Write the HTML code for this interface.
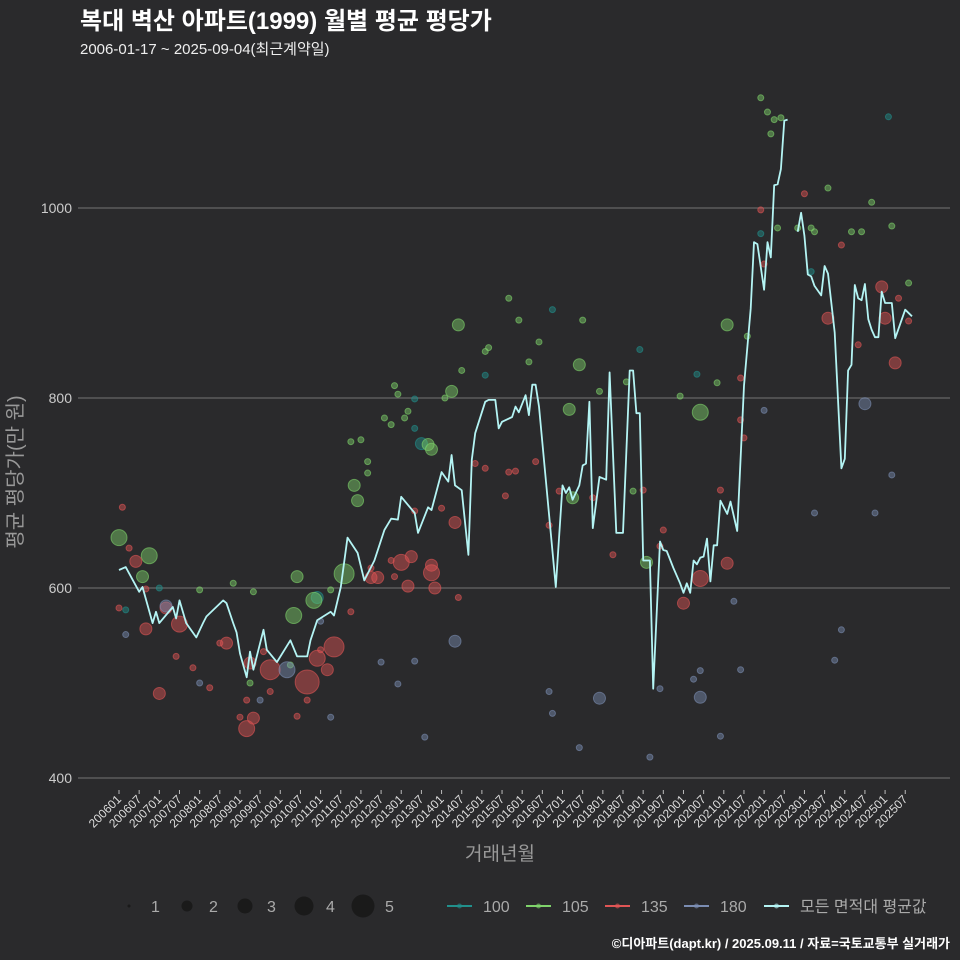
<!DOCTYPE html>
<html><head><meta charset="utf-8">
<style>
body{margin:0;background:#2a2a2c;}
svg{display:block;font-family:"Liberation Sans","Noto Sans CJK KR",sans-serif;}
</style></head>
<body>
<svg id="chart" width="960" height="960" viewBox="0 0 960 960" xmlns="http://www.w3.org/2000/svg">
<rect width="960" height="960" fill="#2a2a2c"/>
<text x="80" y="29" fill="#ffffff" font-size="24" font-weight="bold">복대 벽산 아파트(1999) 월별 평균 평당가</text>
<text x="80" y="54" fill="#eeeeee" font-size="15">2006-01-17 ~ 2025-09-04(최근계약일)</text>
<g id="grid"></g>
<g id="bubbles"></g>
<g id="avgline"></g>
<g id="xaxis"></g>
<text x="500" y="860" fill="#999" font-size="19" text-anchor="middle">거래년월</text>
<text transform="translate(22,472) rotate(-90)" fill="#999" font-size="20" text-anchor="middle">평균 평당가(만 원)</text>
<g id="legend"></g>
<text x="950" y="948" fill="#ffffff" font-size="13" font-weight="bold" text-anchor="end">©디아파트(dapt.kr) / 2025.09.11 / 자료=국토교통부 실거래가</text>
</svg>
<script>
const yTicks=[400,600,800,1000];
const xTickLabels=["200601","200607","200701","200707","200801","200807","200901","200907","201001","201007","201101","201107","201201","201207","201301","201307","201401","201407","201501","201507","201601","201607","201701","201707","201801","201807","201901","201907","202001","202007","202101","202107","202201","202207","202301","202307","202401","202407","202501","202507"];
// average line: month index since 2006-01, value
const avgMonths=[0,2,6,7,10,11,12,16,17,18,20,23,25,26,31,32,34,35,36,38,39,40,43,44,47,51,53,56,57,59,63,64,66,68,71,73,76,79,81,83,84,88,89,92,93,96,98,99,100,102,104,105,106,109,110,112,113,114,117,118,119,121,122,123,124,125,130,132,133,134,135,137,138,139,140,141,143,145,146,148,150,152,153,154,155,156,158,159,161,162,163,165,167,168,169,170,171,172,173,174,175,176,177,178,179,181,182,184,186,188,189,190,192,193,194,195,196,197,198,199,200,202,203,204,205,206,207,209,210,211,213,215,216,217,218,219,220,221,222,223,224,225,226,227,228,230,231,234,236];
const avgValues=[619,622,596,601,563,575,563,580,568,587,563,548,563,570,587,584,563,553,531,506,533,514,556,535,522,545,528,528,545,566,575,571,601,653,637,608,629,661,673,672,696,679,658,685,682,722,712,740,708,703,635,735,763,796,798,798,768,775,780,791,785,803,782,814,814,791,601,708,700,706,693,708,729,731,796,663,717,714,827,658,658,829,829,784,784,629,629,494,649,640,639,621,605,595,605,595,629,625,632,633,652,607,645,645,692,678,691,660,813,894,964,962,914,964,948,1024,1025,1041,1092,1093,null,975,995,971,930,928,918,908,939,931,869,726,736,829,835,919,905,903,920,883,872,864,864,912,900,900,863,893,886];
// bubbles by area type
const g105Months=[0,9,7,53,52,58,67,70,71,92,93,99,101,134,137,135,173,181,157,24,34,39,40,51,63,69,72,74,74,79,81,82,83,85,86,97,102,109,110,116,119,122,125,138,143,151,153,167,178,187,195,194,197,191,193,202,196,206,207,211,218,221,224,230,235];
const g105Values=[653,634,612,612,571,587,615,708,692,751,746,807,877,788,835,695,785,877,627,598,605,500,596,519,598,754,756,721,733,779,772,813,804,779,786,800,829,849,853,905,882,838,859,882,807,817,702,802,816,865,1093,1078,1095,1116,1101,979,979,979,975,1021,975,975,1006,981,921];
const g105Sizes=[3,3,2,2,3,3,4,2,2,2,2,2,2,2,2,2,3,2,2,1,1,1,1,1,1,1,1,1,1,1,1,1,1,1,1,1,1,1,1,1,1,1,1,1,1,1,1,1,1,1,1,1,1,1,1,1,1,1,1,1,1,1,1,1,1];
const g100Months=[90,59,88,88,109,129,155,172,191,206,229,2,12];
const g100Values=[752,590,768,799,824,893,851,825,973,933,1096,577,600];
const g100Sizes=[2,2,1,1,1,1,1,1,1,1,1,1,1];
const g135Months=[5,8,12,14,18,32,39,38,40,45,56,59,62,64,75,77,84,87,86,93,93,94,100,173,168,181,227,228,231,211,1,0,3,8,17,22,27,30,36,38,43,45,53,56,60,69,75,81,82,88,96,101,106,109,116,115,118,124,128,131,141,147,156,162,161,179,185,186,191,192,185,204,215,220,232,235];
const g135Values=[628,557,489,579,562,542,521,452,463,514,501,526,514,538,611,611,627,633,602,624,616,600,669,610,584,626,917,884,837,884,685,579,642,599,528,516,495,542,464,482,533,491,465,482,535,575,621,629,612,681,684,590,731,726,722,697,723,733,666,702,695,635,703,661,644,703,777,758,998,941,821,1015,961,856,905,881];
const g135Sizes=[2,2,2,2,3,2,2,3,2,4,5,3,2,4,2,2,3,2,2,2,3,2,2,3,2,2,2,2,2,2,1,1,1,1,1,1,1,1,1,1,1,1,1,1,1,1,1,1,1,1,1,1,1,1,1,1,1,1,1,1,1,1,1,1,1,1,1,1,1,1,1,1,1,1,1,1];
const g180Months=[14,50,100,143,173,222,2,24,42,60,63,78,83,88,91,128,129,137,158,161,171,173,179,183,192,207,213,215,225,230,185];
const g180Values=[581,514,544,484,485,794,551,500,482,565,464,522,499,523,443,491,468,432,422,494,504,513,444,586,787,679,524,556,679,719,514];
const g180Sizes=[2,3,2,2,2,2,1,1,1,1,1,1,1,1,1,1,1,1,1,1,1,1,1,1,1,1,1,1,1,1,1];

const NS="http://www.w3.org/2000/svg";
const X0=119, PXM=3.36, Y400=778, PXV=0.95;
function xs(m){return X0+PXM*m;}
function ys(v){return Y400-(v-400)*PXV;}
function rad(s){return [0,3,6,8,10,12][s];}
function mk(tag,attrs,parent){const e=document.createElementNS(NS,tag);for(const k in attrs)e.setAttribute(k,attrs[k]);parent.appendChild(e);return e;}

const grid=document.getElementById('grid');
yTicks.forEach(t=>{
  const l=mk('line',{x1:78,x2:950,y1:ys(t),y2:ys(t),stroke:'#666','stroke-width':1.2},grid);
  
  
  const tx=mk('text',{x:72,y:ys(t)+5,fill:'#cccccc','font-size':14,'text-anchor':'end'},grid);
  tx.textContent=t;
  
  
});
const xa=document.getElementById('xaxis');
xTickLabels.forEach((lab,i)=>{
  const x=xs(i*6);
  const tk=mk('line',{x1:x,x2:x,y1:790,y2:794,stroke:'#bbb','stroke-width':1},xa);
  
  
  const t=mk('text',{transform:`translate(${x+3},${800}) rotate(-45)`,fill:'#dddddd','font-size':12,'text-anchor':'end'},xa);
  t.textContent=lab;
  
  
});

const bub=document.getElementById('bubbles');
function drawGroup(ms,vs,ss,color,name){
  ms.forEach((m,i)=>{
    const c=mk('circle',{cx:xs(m),cy:ys(vs[i]),r:rad(ss[i]),fill:color,'fill-opacity':0.45,stroke:color,'stroke-opacity':0.6,'stroke-width':1},bub);
    
    
  });
}
drawGroup(g100Months,g100Values,g100Sizes,'#21908c','100');
drawGroup(g105Months,g105Values,g105Sizes,'#7fd36b','105');
drawGroup(g135Months,g135Values,g135Sizes,'#e05555','135');
drawGroup(g180Months,g180Values,g180Sizes,'#7b8db3','180');

const al=document.getElementById('avgline');
let d='',pen=false;
avgMonths.forEach((m,i)=>{
  const v=avgValues[i];
  if(v===null){pen=false;return;}
  d+=(pen?'L':'M')+xs(m).toFixed(1)+','+ys(v).toFixed(1);
  pen=true;
});
const p=mk('path',{d:d,fill:'none',stroke:'#b4f4f4','stroke-width':1.8,'stroke-linejoin':'round'},al);



const lg=document.getElementById('legend');
const sizeLabels=[1,2,3,4,5];
const sizeX=[129,187,245,304,363];
sizeLabels.forEach((s,i)=>{
  const c=mk('circle',{cx:sizeX[i],cy:906,r:[1.5,5.5,7.5,9.5,11.5][i],fill:'#1a1a1a'},lg);
  
  
  const t=mk('text',{x:sizeX[i]+22,y:912,fill:'#aaaaaa','font-size':16},lg);
  t.textContent=s;
  
  
});
const legNames=['100','105','135','180','모든 면적대 평균값'];
const legColors=['#21908c','#7fd36b','#e05555','#7b8db3','#b4f4f4'];
const legX=[447,526,605,684,764];
legNames.forEach((n,i)=>{
  const g=mk('g',{},lg);
  
  
  mk('line',{x1:legX[i],x2:legX[i]+25,y1:906,y2:906,stroke:legColors[i],'stroke-width':2},g);
  mk('circle',{cx:legX[i]+12.5,cy:906,r:2.5,fill:legColors[i],'fill-opacity':0.6},g);
  const t=mk('text',{x:legX[i]+36,y:912,fill:'#aaaaaa','font-size':16},g);
  t.textContent=n;
});
</script>
</body></html>
